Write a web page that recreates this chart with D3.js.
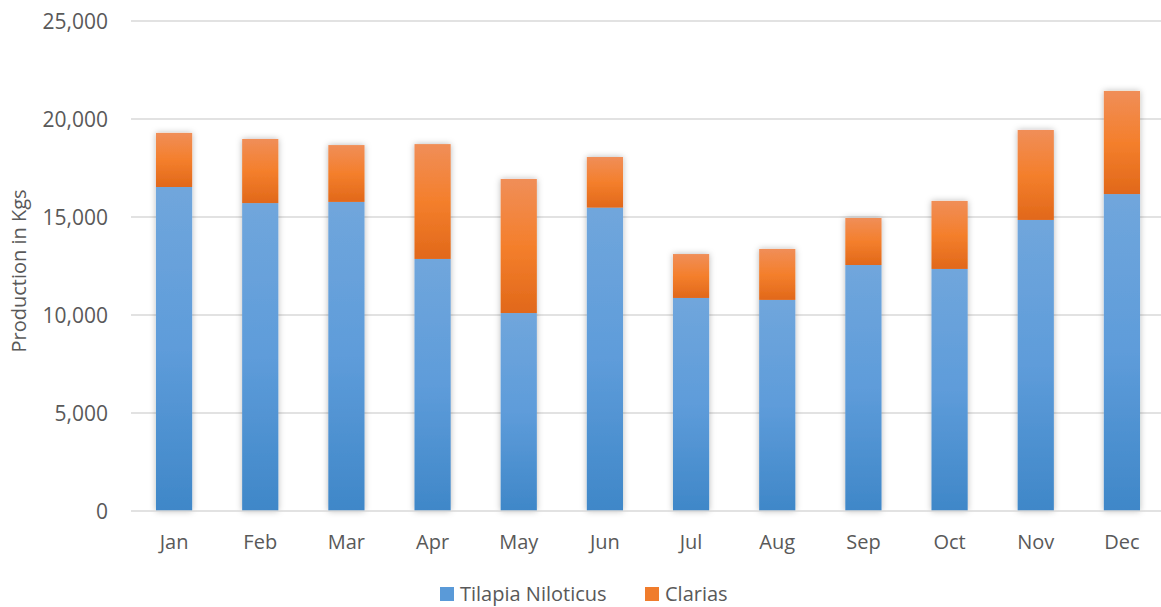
<!DOCTYPE html>
<html>
<head>
<meta charset="utf-8">
<script src="https://cdn.jsdelivr.net/npm/d3@7"></script>
<style>
  html, body { margin: 0; padding: 0; background: #fff; }
  svg { display: block; font-family: "Open Sans", "Liberation Sans", sans-serif; }
</style>
</head>
<body>
<svg id="chart" width="1161" height="607"></svg>
<script>
// Monthly fish production (kg), stacked by species
const months = ["Jan", "Feb", "Mar", "Apr", "May", "Jun", "Jul", "Aug", "Sep", "Oct", "Nov", "Dec"];
const tilapia = [16530, 15710, 15770, 12860, 10100, 15480, 10870, 10770, 12550, 12350, 14850, 16170];
const clarias = [2760, 3270, 2900, 5860, 6840, 2580, 2240, 2600, 2400, 3470, 4590, 5260];
const seriesNames = ["Tilapia Niloticus", "Clarias"];
const yTicks = [0, 5000, 10000, 15000, 20000, 25000];

const rows = months.map((m, i) => ({ month: m, "Tilapia Niloticus": tilapia[i], "Clarias": clarias[i] }));
const stacked = d3.stack().keys(seriesNames)(rows);

const svg = d3.select("#chart");
const x = d3.scaleBand().domain(months).range([131, 1165]).paddingInner(0.58).paddingOuter(0.29);
const y = d3.scaleLinear().domain([0, 25000]).range([511, 21]);

const defs = svg.append("defs");
const shadow = defs.append("filter").attr("id", "barShadow")
  .attr("x", "-40%").attr("y", "-10%").attr("width", "180%").attr("height", "120%");
shadow.append("feDropShadow").attr("dx", 0).attr("dy", 0).attr("stdDeviation", 3)
  .attr("flood-color", "#000").attr("flood-opacity", 0.28);

const blueGrad = defs.append("linearGradient").attr("id", "gBlue").attr("x1", 0).attr("y1", 0).attr("x2", 0).attr("y2", 1);
blueGrad.append("stop").attr("offset", "0%").attr("stop-color", "#70A6DC");
blueGrad.append("stop").attr("offset", "50%").attr("stop-color", "#5E9CDA");
blueGrad.append("stop").attr("offset", "100%").attr("stop-color", "#3F87C8");

const orangeGrad = defs.append("linearGradient").attr("id", "gOrange").attr("x1", 0).attr("y1", 0).attr("x2", 0).attr("y2", 1);
orangeGrad.append("stop").attr("offset", "0%").attr("stop-color", "#F08E58");
orangeGrad.append("stop").attr("offset", "50%").attr("stop-color", "#F47F2C");
orangeGrad.append("stop").attr("offset", "100%").attr("stop-color", "#E1681A");

const fills = { "Tilapia Niloticus": "url(#gBlue)", "Clarias": "url(#gOrange)" };
const legendFills = { "Tilapia Niloticus": "#5A9AD8", "Clarias": "#F07C2C" };

// gridlines
svg.append("g").selectAll("line").data(yTicks.filter(t => t > 0)).join("line")
  .attr("x1", 131).attr("x2", 1161)
  .attr("y1", d => y(d)).attr("y2", d => y(d))
  .attr("stroke", "#D9D9D9").attr("stroke-width", 1.5);

// y tick labels
svg.append("g").selectAll("text").data(yTicks).join("text")
  .attr("x", 108).attr("y", d => y(d)).attr("dy", "0.36em")
  .attr("text-anchor", "end").attr("fill", "#595959").attr("font-size", 21)
  .text(d => d3.format(",")(d));

// stacked bars
const barGroup = svg.append("g").attr("filter", "url(#barShadow)");
stacked.forEach(series => {
  barGroup.append("g").selectAll("rect").data(series).join("rect")
    .attr("x", d => x(d.data.month))
    .attr("width", x.bandwidth())
    .attr("y", d => y(d[1]))
    .attr("height", d => y(d[0]) - y(d[1]))
    .attr("fill", fills[series.key]);
});

// baseline
svg.append("line").attr("x1", 131).attr("x2", 1161).attr("y1", y(0)).attr("y2", y(0))
  .attr("stroke", "#D9D9D9").attr("stroke-width", 1.5);

// month labels
svg.append("g").selectAll("text").data(months).join("text")
  .attr("x", d => x(d) + x.bandwidth() / 2).attr("y", 549)
  .attr("text-anchor", "middle").attr("fill", "#595959").attr("font-size", 20)
  .text(d => d);

// y axis title
svg.append("text")
  .attr("transform", "translate(26,271) rotate(-90)")
  .attr("text-anchor", "middle").attr("fill", "#595959").attr("font-size", 20)
  .text("Production in Kgs");

// legend
const legendItems = [{ key: "Tilapia Niloticus", x: 440 }, { key: "Clarias", x: 645 }];
const lg = svg.append("g");
legendItems.forEach(it => {
  lg.append("rect").attr("x", it.x).attr("y", 587).attr("width", 14).attr("height", 14)
    .attr("fill", legendFills[it.key]);
  lg.append("text").attr("x", it.x + 20).attr("y", 601)
    .attr("fill", "#595959").attr("font-size", 20).text(it.key);
});
</script>
</body>
</html>
